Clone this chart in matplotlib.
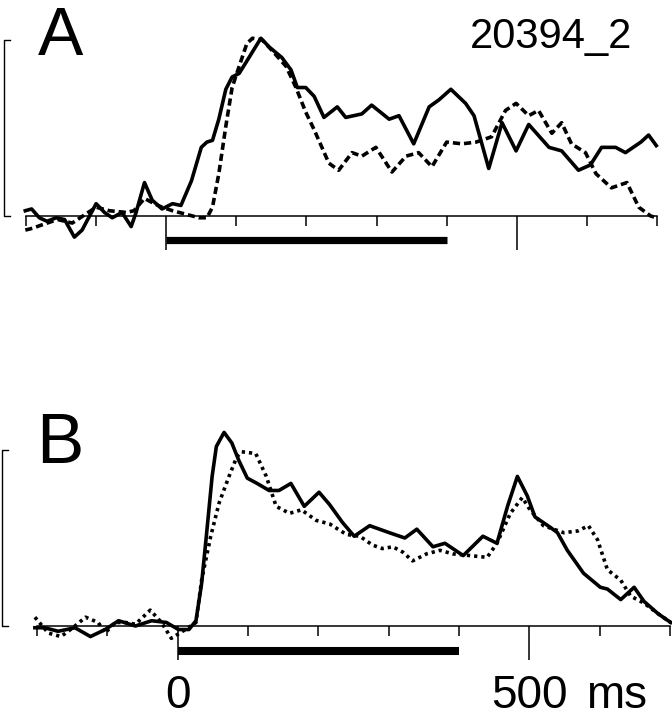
import matplotlib.pyplot as plt
import numpy as np

# normalised response, time in ms
a_solid_t = [-201, -192, -181, -170, -157, -145, -131, -120, -100, -88, -77, -63, -50, -43, -31,
             -20, -6, 9, 21, 36, 50, 58, 66, 75, 85, 94, 104, 118, 135, 147, 165, 178, 187, 199, 211,
             225, 244, 256, 279, 293, 318, 332, 353, 375, 389, 406, 427, 439, 460, 479, 499, 517,
             546, 564, 588, 605, 621, 641, 655, 677, 688, 699]
a_solid_v = [0.03, 0.04, -0.01, -0.03, -0.01, -0.02, -0.12, -0.08, 0.07, 0.02, -0.01, 0.02, -0.06, 0.02, 0.19,
             0.09, 0.04, 0.07, 0.06, 0.2, 0.39, 0.42, 0.43, 0.55, 0.72, 0.79, 0.81, 0.9, 1.01, 0.96, 0.9, 0.83, 0.73, 0.73, 0.68,
             0.56, 0.62, 0.56, 0.58, 0.63, 0.55, 0.57, 0.41, 0.62, 0.66, 0.72, 0.64, 0.57, 0.27, 0.53, 0.37, 0.52,
             0.39, 0.37, 0.26, 0.29, 0.39, 0.39, 0.36, 0.42, 0.46, 0.4]

a_dash_t = [-201, -191, -177, -155, -134, -100, -81, -57, -46, -31, -17, -6, 9, 28, 47,
            58, 66, 75, 85, 94, 104, 115, 123, 137, 151, 171, 185, 199, 211, 232,
            246, 265, 279, 299, 322, 342, 360, 379, 400, 422, 442, 464, 484, 499, 517,
            531, 550, 564, 578, 598, 613, 635, 657, 674, 691, 699]
a_dash_v = [-0.08, -0.07, -0.05, -0.02, -0.04, 0.05, 0.03, 0.02, 0.03, 0.1, 0.07, 0.05, 0.03, 0.01, -0.01,
            -0.01, 0.05, 0.24, 0.51, 0.73, 0.85, 0.98, 1.01, 1.0, 0.94, 0.85, 0.73, 0.59, 0.49, 0.3,
            0.26, 0.36, 0.34, 0.39, 0.25, 0.34, 0.36, 0.28, 0.42, 0.41, 0.42, 0.45, 0.6, 0.64, 0.57,
            0.6, 0.47, 0.53, 0.41, 0.36, 0.24, 0.16, 0.19, 0.05, 0.0, -0.01]

b_solid_t = [-203, -189, -170, -146, -124, -103, -84, -60, -37, -16, 1, 16, 26, 34, 41,
             49, 55, 66, 77, 87, 99, 113, 130, 144, 161, 180, 201, 216, 234, 251,
             273, 301, 323, 340, 363, 380, 406, 434, 454, 469, 483, 497, 508, 530, 540,
             554, 577, 601, 611, 630, 649, 663, 683, 701]
b_solid_v = [-0.01, -0.01, -0.03, -0.01, -0.06, -0.02, 0.03, 0.0, 0.03, 0.02, -0.02, -0.02, 0.03, 0.24, 0.52,
             0.85, 1.02, 1.1, 1.04, 0.94, 0.84, 0.81, 0.77, 0.77, 0.81, 0.68, 0.76, 0.69, 0.59, 0.51,
             0.57, 0.53, 0.5, 0.55, 0.45, 0.47, 0.4, 0.51, 0.47, 0.68, 0.85, 0.74, 0.62, 0.56, 0.53,
             0.43, 0.3, 0.22, 0.21, 0.15, 0.22, 0.14, 0.07, 0.02]

b_dot_t = [-203, -184, -166, -149, -131, -113, -103, -89, -74, -60, -39, -23, -9, 11, 26,
           34, 47, 59, 73, 84, 91, 111, 126, 140, 159, 176, 197, 216, 240, 259,
           277, 291, 306, 320, 334, 354, 373, 391, 416, 440, 454, 473, 490, 501, 520,
           549, 569, 584, 597, 611, 630, 644, 663, 683, 701]
b_dot_v = [0.05, -0.04, -0.06, -0.01, 0.05, 0.02, -0.04, 0.02, 0.02, 0.01, 0.09, 0.02, -0.07, -0.02, 0.02,
           0.26, 0.51, 0.7, 0.85, 0.96, 0.99, 0.98, 0.85, 0.68, 0.64, 0.66, 0.6, 0.58, 0.52, 0.51,
           0.46, 0.44, 0.45, 0.42, 0.37, 0.41, 0.43, 0.41, 0.4, 0.39, 0.47, 0.64, 0.73, 0.66, 0.57,
           0.53, 0.54, 0.57, 0.49, 0.32, 0.26, 0.17, 0.13, 0.07, 0.02]

stim = [0, 400]
major_ticks = [0, 500]
minor_ticks = [-200, -100, 100, 200, 300, 400, 600, 700]
tick_text = ['0', '500']
cell_id = '20394_2'

plt.rcParams['font.family'] = ['Liberation Sans', 'DejaVu Sans']

W, H = 672, 719
fig = plt.figure(figsize=(W / 100, H / 100), dpi=100)


def make_axes(x0, x1, base, ylim, scale=176.0):
    # place axes so that -200..700 ms spans x0..x1 px and 1 unit = scale px
    top = base - scale * ylim[1]
    bot = base - scale * ylim[0]
    ax = fig.add_axes([x0 / W, 1 - bot / H, (x1 - x0) / W, (bot - top) / H])
    ax.set_xlim(-200, 700)
    ax.set_ylim(*ylim)
    ax.patch.set_visible(False)
    for s in ['left', 'top', 'right']:
        ax.spines[s].set_visible(False)
    ax.spines['bottom'].set_position(('data', 0))
    ax.spines['bottom'].set_linewidth(1.1)
    ax.set_yticks([])
    ax.set_xticks(major_ticks)
    ax.set_xticks(minor_ticks, minor=True)
    ax.set_xticklabels([])
    ax.tick_params(axis='x', which='major', length=24.5, width=1.1, direction='out')
    ax.tick_params(axis='x', which='minor', length=7.2, width=1.1, direction='out')
    return ax


def scale_bar(ax, xb):
    ax.plot([xb + 9, xb, xb, xb + 9], [1, 1, 0, 0], color='black', lw=1.0, clip_on=False)


line_kw = dict(color='black', lw=2.6, solid_joinstyle='round', dash_joinstyle='round', clip_on=False)

# Panel A
axA = make_axes(26, 657, 216, (-0.4, 1.2))
axA.plot(a_solid_t, a_solid_v, **line_kw)
axA.plot(a_dash_t, a_dash_v, dashes=(2.0, 1.1), **line_kw)
axA.plot(stim, [-0.136, -0.136], color='black', lw=5.2, solid_capstyle='butt', clip_on=False)
scale_bar(axA, -232)

# Panel B
axB = make_axes(37, 670, 626, (-0.55, 1.3))
axB.plot(b_solid_t, b_solid_v, **line_kw)
axB.plot(b_dot_t, b_dot_v, dashes=(0.9, 1.1), **line_kw)
axB.plot(stim, [-0.142, -0.142], color='black', lw=5.8, solid_capstyle='butt', clip_on=False)
scale_bar(axB, -250)

# time labels under panel B
lab_y = -0.466
for t, s in zip(major_ticks, tick_text):
    axB.text(t, lab_y, s, fontsize=33, ha='center', va='baseline')
axB.text(580, lab_y, 'ms', fontsize=33, ha='left', va='baseline')

fig.text(38 / W, 1 - 55 / H, 'A', fontsize=49, ha='left', va='baseline')
fig.text(36 / W, 1 - 463 / H, 'B', fontsize=51, ha='left', va='baseline')
fig.text(470 / W, 1 - 48 / H, cell_id, fontsize=30, ha='left', va='baseline')

fig.savefig('out.png', dpi=100)
